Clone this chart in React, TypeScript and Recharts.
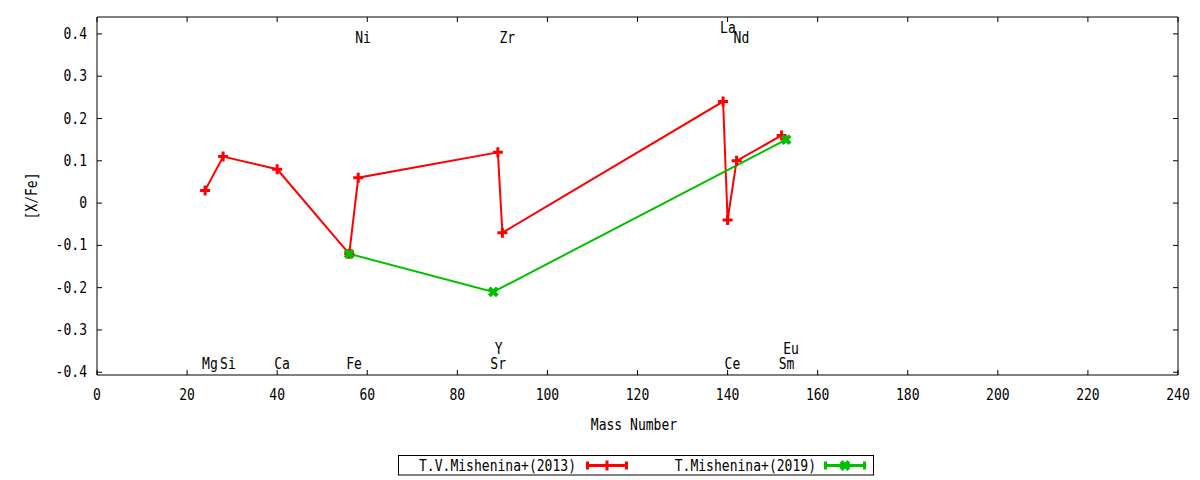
import React from "react";
import { ComposedChart, Line, Scatter, XAxis, YAxis, ReferenceArea } from "recharts";

const RED = "#ff0000";
const GREEN = "#00c000";
const FONT = "'DejaVu Sans Mono', monospace";
// gnuplot's font is tall and narrow: draw DejaVu Mono at 15px squeezed to a 7.85px pitch
const FONT_SIZE = 15;
const CHAR_W = 7.85;

// layout of the gnuplot-style frame
const W = 1200;
const H = 480;
const PLOT_TOP = 17;
const PLOT_RIGHT = 1178;
const TICK = 5;

// T.V.Mishenina+(2013)
const elems2013 = ["Mg", "Si", "Ca", "Fe", "Ni", "Y", "Zr", "La", "Ce", "Nd", "Sm"];
const mass2013 = [24, 28, 40, 56, 58, 89, 90, 139, 140, 142, 152];
const xfe2013 = [0.03, 0.11, 0.08, -0.12, 0.06, 0.12, -0.07, 0.24, -0.04, 0.1, 0.16];

// T.Mishenina+(2019)
const elems2019 = ["Fe", "Sr", "Eu"];
const mass2019 = [56, 88, 153];
const xfe2019 = [-0.12, -0.21, 0.15];

// element name labels (data coords)
const labelNames = ["Mg", "Si", "Ca", "Fe", "Ni", "Sr", "Y", "Zr", "La", "Ce", "Nd", "Sm", "Eu"];
const labelMass = [24, 28, 40, 56, 58, 88, 89, 90, 139, 140, 142, 152, 153];
const labelY = [-0.38, -0.38, -0.38, -0.38, 0.39, -0.38, -0.345, 0.39, 0.415, -0.38, 0.39, -0.38, -0.345];

const xTicks = [0, 20, 40, 60, 80, 100, 120, 140, 160, 180, 200, 220, 240];
const yTicks = [-0.4, -0.3, -0.2, -0.1, 0, 0.1, 0.2, 0.3, 0.4];
const xDomain = [0, 240];
const yDomain = [-0.4065, 0.44];

const seriesNames = ["T.V.Mishenina+(2013)", "T.Mishenina+(2019)"];

const data2013 = elems2013.map((el, i) => ({ el, mass: mass2013[i], y: xfe2013[i] }));
const data2019 = elems2019.map((el, i) => ({ el, mass: mass2019[i], y: xfe2019[i] }));
const labelData = labelNames.map((el, i) => ({ el, mass: labelMass[i], y: labelY[i] }));

function MonoText({
  x,
  y,
  anchor = "start",
  text,
  dx,
  transform,
}: {
  x: number;
  y: number;
  anchor?: "start" | "middle" | "end";
  text: string;
  dx?: number;
  transform?: string;
}) {
  return (
    <text
      x={x}
      y={y}
      dx={dx}
      textAnchor={anchor}
      dominantBaseline="central"
      fontFamily={FONT}
      fontSize={FONT_SIZE}
      fill="#000"
      textLength={text.length * CHAR_W}
      lengthAdjust="spacingAndGlyphs"
      transform={transform}
    >
      {text}
    </text>
  );
}

function plusPath(cx: number, cy: number) {
  return `M${cx - 5},${cy} H${cx + 5} M${cx},${cy - 5} V${cy + 5}`;
}
function crossPath(cx: number, cy: number) {
  return `M${cx - 4},${cy - 4} L${cx + 4},${cy + 4} M${cx - 4},${cy + 4} L${cx + 4},${cy - 4}`;
}

const renderPlus = (p: any) => (
  <path key={`p${p.index}`} d={plusPath(p.cx, p.cy)} stroke={RED} strokeWidth={3} fill="none" />
);
const renderCross = (p: any) => (
  <path key={`c${p.index}`} d={crossPath(p.cx, p.cy)} stroke={GREEN} strokeWidth={4} fill="none" />
);

const renderLabel = (p: any) => <MonoText x={p.cx} y={p.cy} dx={-3} text={p.payload.el} />;

const fmtY = (v: number) => (Math.abs(v) < 1e-9 ? "0" : v.toFixed(1));

const renderYTick = (p: any) => {
  const { x, y, payload } = p;
  return (
    <g key={`yt${payload.value}`}>
      <line x1={x} x2={x + TICK} y1={y} y2={y} stroke="#000" />
      <line x1={PLOT_RIGHT - TICK} x2={PLOT_RIGHT} y1={y} y2={y} stroke="#000" />
      <MonoText x={x - 10} y={y} anchor="end" text={fmtY(payload.value)} />
    </g>
  );
};

const renderXTick = (p: any) => {
  const { x, y, payload } = p;
  return (
    <g key={`xt${payload.value}`}>
      <line x1={x} x2={x} y1={y - TICK} y2={y} stroke="#000" />
      <line x1={x} x2={x} y1={PLOT_TOP} y2={PLOT_TOP + TICK} stroke="#000" />
      <MonoText x={x} y={y + 20} anchor="middle" text={String(payload.value)} />
    </g>
  );
};

function Legend() {
  const cy = 465.5;
  return (
    <g>
      <rect x={398.5} y={455.5} width={475} height={19.5} fill="#fff" stroke="#000" />
      <MonoText x={576} y={cy} anchor="end" text={seriesNames[0]} />
      <line x1={586} x2={628} y1={cy} y2={cy} stroke={RED} strokeWidth={3} />
      <line x1={587.5} x2={587.5} y1={cy - 4} y2={cy + 4} stroke={RED} strokeWidth={3} />
      <line x1={626.5} x2={626.5} y1={cy - 4} y2={cy + 4} stroke={RED} strokeWidth={3} />
      <path d={plusPath(607, cy)} stroke={RED} strokeWidth={3} fill="none" />
      <MonoText x={816} y={cy} anchor="end" text={seriesNames[1]} />
      <line x1={824} x2={866} y1={cy} y2={cy} stroke={GREEN} strokeWidth={3} />
      <line x1={825.5} x2={825.5} y1={cy - 4} y2={cy + 4} stroke={GREEN} strokeWidth={3} />
      <line x1={864.5} x2={864.5} y1={cy - 4} y2={cy + 4} stroke={GREEN} strokeWidth={3} />
      <path d={crossPath(845, cy)} stroke={GREEN} strokeWidth={4} fill="none" />
    </g>
  );
}

export default function App() {
  return (
    <div style={{ position: "absolute", left: 0, top: 0, width: W, height: H, background: "#fff" }}>
      <ComposedChart width={W} height={H} margin={{ top: PLOT_TOP, right: W - PLOT_RIGHT, bottom: 0, left: 0 }}>
        <XAxis
          type="number"
          dataKey="mass"
          domain={xDomain}
          ticks={xTicks}
          interval={0}
          allowDataOverflow
          height={105}
          tickSize={0}
          tickMargin={0}
          tickLine={false}
          axisLine={false}
          tick={renderXTick}
        />
        <YAxis
          type="number"
          dataKey="y"
          domain={yDomain}
          ticks={yTicks}
          interval={0}
          allowDataOverflow
          width={97}
          tickSize={0}
          tickMargin={0}
          tickLine={false}
          axisLine={false}
          tick={renderYTick}
        />
        <ReferenceArea
          x1={xDomain[0]}
          x2={xDomain[1]}
          y1={yDomain[0]}
          y2={yDomain[1]}
          fill="none"
          fillOpacity={0}
          stroke="#000"
          strokeWidth={1}
        />
        <Scatter data={labelData} dataKey="y" shape={renderLabel} isAnimationActive={false} />
        <Line
          data={data2013}
          dataKey="y"
          type="linear"
          stroke={RED}
          strokeWidth={2}
          dot={renderPlus}
          activeDot={false}
          isAnimationActive={false}
        />
        <Line
          data={data2019}
          dataKey="y"
          type="linear"
          stroke={GREEN}
          strokeWidth={2}
          dot={renderCross}
          activeDot={false}
          isAnimationActive={false}
        />
      </ComposedChart>
      <svg width={W} height={H} style={{ position: "absolute", left: 0, top: 0, pointerEvents: "none" }}>
        <MonoText x={634} y={425} anchor="middle" text="Mass Number" />
        <MonoText x={32} y={196} anchor="middle" text="[X/Fe]" transform="rotate(-90 32 196)" />
        <Legend />
      </svg>
    </div>
  );
}
